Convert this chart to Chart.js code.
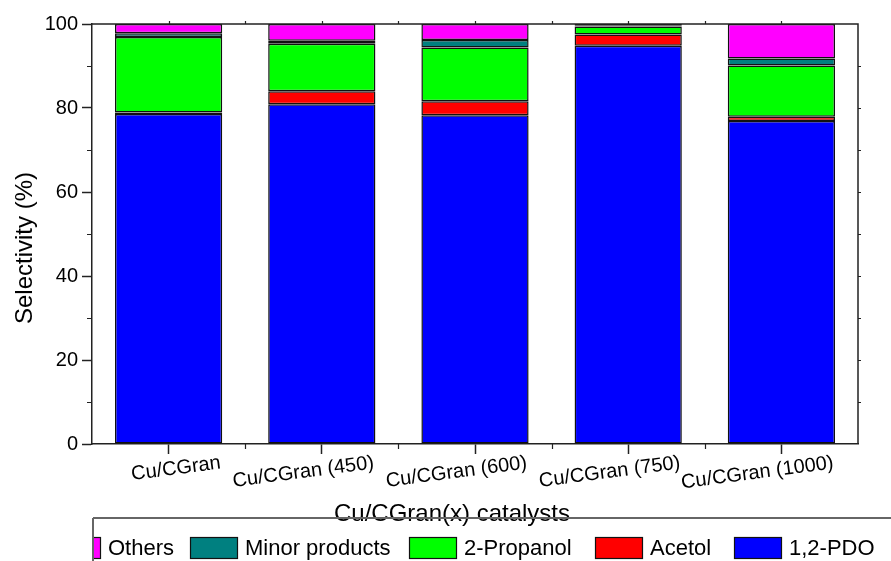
<!DOCTYPE html>
<html>
<head>
<meta charset="utf-8">
<script src="https://cdn.jsdelivr.net/npm/chart.js@4.4.1/dist/chart.umd.min.js"></script>
<style>
  html, body { margin: 0; padding: 0; background: #fff; }
  #wrap { width: 891px; height: 561px; position: relative; }
  canvas { display: block; }
</style>
</head>
<body>
<div id="wrap"><canvas id="c" width="891" height="561"></canvas></div>
<script>
// ---- data ----
const categories = ['Cu/CGran', 'Cu/CGran (450)', 'Cu/CGran (600)', 'Cu/CGran (750)', 'Cu/CGran (1000)'];
const pdo        = [78.6, 80.9, 78.3, 94.8, 76.9];
const acetol     = [0.3, 3.1, 3.3, 2.7, 1.0];
const propanol   = [18.0, 11.3, 12.8, 1.9, 12.2];
const minor      = [0.9, 0.7, 1.8, 0.3, 1.7];
const others     = [2.2, 4.0, 3.8, 0.3, 8.2];
const yTickValues = [0, 20, 40, 60, 80, 100];
const seriesNames = ['1,2-PDO', 'Acetol', '2-Propanol', 'Minor products', 'Others'];
const seriesColors = ['#0000FF', '#FF0000', '#00FF00', '#008080', '#FF00FF'];
const xTitle = 'Cu/CGran(x) catalysts';
const yTitle = 'Selectivity (%)';

const FONT = "'Liberation Sans', Arial, sans-serif";
const AX = '#222';

const seriesData = [pdo, acetol, propanol, minor, others];
const datasets = seriesData.map((d, i) => ({
  label: seriesNames[i],
  data: d,
  backgroundColor: seriesColors[i],
  borderColor: '#111',
  borderWidth: 1.5,
  borderSkipped: false,
  barPercentage: 0.7,
  categoryPercentage: 1.0
}));

const framePlugin = {
  id: 'frame',
  afterDraw(chart) {
    const ctx = chart.ctx;
    const a = chart.chartArea;
    const xs = chart.scales.x, ys = chart.scales.y;
    ctx.save();
    ctx.strokeStyle = AX;
    ctx.lineWidth = 1.5;
    // frame (top and right)
    ctx.beginPath();
    ctx.moveTo(a.left, a.top); ctx.lineTo(a.right, a.top); ctx.lineTo(a.right, a.bottom);
    ctx.stroke();
    // minor ticks
    ctx.lineWidth = 1.2;
    ctx.beginPath();
    for (let v = 10; v < 100; v += 20) {
      const y = Math.round(ys.getPixelForValue(v)) + 0.5;
      ctx.moveTo(a.left - 5, y); ctx.lineTo(a.left, y);
    }
    for (let v = 10; v < 100; v += 10) {
      const y = Math.round(ys.getPixelForValue(v)) + 0.5;
      ctx.moveTo(a.right, y); ctx.lineTo(a.right + 3, y);
    }
    const n = categories.length;
    for (let i = 1; i < n; i++) {
      const x = Math.round(xs.getPixelForValue(i - 0.5)) + 0.5;
      ctx.moveTo(x, a.bottom); ctx.lineTo(x, a.bottom + 5);
      ctx.moveTo(x, a.top); ctx.lineTo(x, a.top - 3);
    }
    for (let i = 0; i < n; i++) {
      const x = Math.round(xs.getPixelForValue(i)) + 0.5;
      ctx.moveTo(x, a.top); ctx.lineTo(x, a.top - 3);
    }
    ctx.stroke();

    // axis titles
    ctx.fillStyle = '#000';
    ctx.font = '24px ' + FONT;
    ctx.textAlign = 'center';
    ctx.textBaseline = 'alphabetic';
    ctx.fillText(xTitle, 452, 521);
    ctx.save();
    ctx.translate(32, 248);
    ctx.rotate(-Math.PI / 2);
    ctx.fillText(yTitle, 0, 0);
    ctx.restore();

    // legend (series in reverse stacking order)
    const top = 518;
    ctx.strokeStyle = '#666';
    ctx.lineWidth = 2;
    ctx.beginPath();
    ctx.moveTo(93, top); ctx.lineTo(891, top);
    ctx.moveTo(93, top); ctx.lineTo(93, 561);
    ctx.stroke();
    ctx.beginPath();
    ctx.rect(94, top + 1, 891 - 94, 561 - top);
    ctx.clip();
    ctx.font = '22px ' + FONT;
    ctx.textBaseline = 'middle';
    ctx.textAlign = 'left';
    const boxLefts = [53, 190, 409, 595, 734];
    const boxW = 48, boxH = 22, cy = 548;
    const nd = chart.data.datasets.length;
    for (let k = nd - 1, j = 0; k >= 0; k--, j++) {
      const ds = chart.data.datasets[k];
      const x = boxLefts[j];
      ctx.fillStyle = ds.backgroundColor;
      ctx.fillRect(x, cy - boxH / 2, boxW, boxH);
      ctx.strokeStyle = '#111';
      ctx.lineWidth = 1.2;
      ctx.strokeRect(x + 0.5, cy - boxH / 2 + 0.5, boxW - 1, boxH - 1);
      ctx.fillStyle = '#000';
      ctx.fillText(ds.label, x + boxW + 7, cy + 1);
    }
    ctx.restore();
  }
};

new Chart(document.getElementById('c'), {
  type: 'bar',
  data: { labels: categories, datasets },
  options: {
    responsive: false,
    animation: false,
    devicePixelRatio: 1,
    layout: { padding: { top: 24, right: 33, bottom: 0, left: 0 } },
    plugins: { legend: { display: false }, tooltip: { enabled: false } },
    scales: {
      x: {
        stacked: true,
        offset: true,
        grid: { display: true, drawOnChartArea: false, offset: false, tickLength: 10, tickWidth: 1.5, tickColor: AX },
        border: { display: true, color: AX, width: 1.5 },
        ticks: {
          font: { family: FONT, size: 20 }, color: '#000',
          minRotation: 7.5, maxRotation: 7.5, labelOffset: 52, padding: -3, autoSkip: false
        },
        afterFit(s) { s.height = 117; }
      },
      y: {
        stacked: true,
        min: 0, max: 100,
        afterBuildTicks(s) { s.ticks = yTickValues.map(v => ({ value: v })); },
        grid: { display: true, drawOnChartArea: false, tickLength: 10, tickWidth: 1.5, tickColor: AX },
        border: { display: true, color: AX, width: 1.5 },
        ticks: { font: { family: FONT, size: 20 }, color: '#000', padding: 4 },
        afterFit(s) { s.width = 92; }
      }
    }
  },
  plugins: [framePlugin]
});
</script>
</body>
</html>
